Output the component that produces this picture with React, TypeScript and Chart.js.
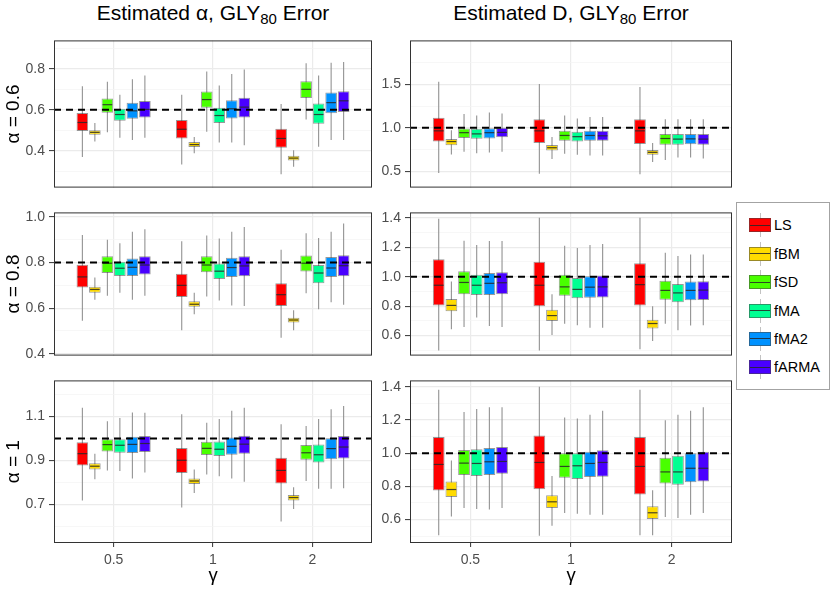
import React, { useEffect, useRef } from 'react'
import { Chart, registerables } from 'chart.js'

Chart.register(...registerables)

const FONT = "'Liberation Sans', Arial, Helvetica, sans-serif"
Chart.defaults.font.family = FONT

const methods = ['LS', 'fBM', 'fSD', 'fMA', 'fMA2', 'fARMA']
const methodColors = ['#FF0000', '#FFDB00', '#49FF00', '#00FF92', '#0092FF', '#4900FF']
const gammaLabels = ['0.5', '1', '2']

// one row per method, one entry per gamma (0.5, 1, 2):
// [lower whisker, Q1, median, Q3, upper whisker]
const alphaHat06 = [
  [[0.37, 0.497, 0.538, 0.584, 0.715], [0.333, 0.46, 0.505, 0.55, 0.673], [0.285, 0.415, 0.46, 0.508, 0.628]],
  [[0.445, 0.478, 0.49, 0.5, 0.535], [0.388, 0.418, 0.43, 0.443, 0.467], [0.322, 0.352, 0.364, 0.375, 0.403]],
  [[0.49, 0.586, 0.625, 0.655, 0.737], [0.493, 0.61, 0.65, 0.689, 0.787], [0.553, 0.658, 0.7, 0.74, 0.827]],
  [[0.463, 0.547, 0.577, 0.605, 0.674], [0.44, 0.535, 0.572, 0.61, 0.719], [0.42, 0.532, 0.577, 0.631, 0.767]],
  [[0.452, 0.556, 0.595, 0.635, 0.749], [0.44, 0.557, 0.605, 0.647, 0.775], [0.452, 0.583, 0.635, 0.685, 0.83]],
  [[0.463, 0.562, 0.602, 0.643, 0.767], [0.427, 0.562, 0.613, 0.659, 0.797], [0.452, 0.589, 0.644, 0.691, 0.834]]
]

const dHat06 = [
  [[0.482, 0.842, 0.965, 1.116, 1.528], [0.472, 0.824, 0.965, 1.099, 1.504], [0.465, 0.813, 0.965, 1.099, 1.468]],
  [[0.694, 0.8, 0.842, 0.87, 0.972], [0.641, 0.739, 0.771, 0.803, 0.894], [0.606, 0.69, 0.718, 0.746, 0.824]],
  [[0.725, 0.884, 0.944, 0.993, 1.158], [0.701, 0.852, 0.912, 0.965, 1.141], [0.63, 0.806, 0.877, 0.93, 1.099]],
  [[0.708, 0.873, 0.93, 0.99, 1.141], [0.69, 0.842, 0.898, 0.954, 1.106], [0.658, 0.806, 0.87, 0.93, 1.099]],
  [[0.715, 0.877, 0.944, 0.996, 1.176], [0.683, 0.852, 0.912, 0.965, 1.123], [0.658, 0.81, 0.873, 0.93, 1.099]],
  [[0.725, 0.891, 0.947, 1.0, 1.165], [0.683, 0.852, 0.908, 0.965, 1.123], [0.648, 0.806, 0.87, 0.93, 1.099]]
]

const alphaHat08 = [
  [[0.545, 0.691, 0.737, 0.79, 0.921], [0.503, 0.649, 0.7, 0.751, 0.893], [0.47, 0.609, 0.659, 0.709, 0.856]],
  [[0.637, 0.668, 0.682, 0.694, 0.734], [0.573, 0.606, 0.617, 0.63, 0.668], [0.503, 0.537, 0.548, 0.558, 0.591]],
  [[0.654, 0.754, 0.797, 0.828, 0.9], [0.651, 0.757, 0.789, 0.828, 0.918], [0.665, 0.761, 0.797, 0.831, 0.928]],
  [[0.668, 0.741, 0.775, 0.803, 0.884], [0.633, 0.728, 0.762, 0.796, 0.905], [0.595, 0.709, 0.754, 0.789, 0.907]],
  [[0.637, 0.741, 0.779, 0.818, 0.935], [0.612, 0.737, 0.778, 0.821, 0.935], [0.626, 0.737, 0.776, 0.824, 0.935]],
  [[0.654, 0.748, 0.789, 0.828, 0.946], [0.609, 0.74, 0.785, 0.828, 0.956], [0.615, 0.74, 0.786, 0.832, 0.971]]
]

const dHat08 = [
  [[0.498, 0.805, 0.942, 1.119, 1.394], [0.498, 0.799, 0.942, 1.102, 1.4], [0.507, 0.805, 0.946, 1.091, 1.4]],
  [[0.643, 0.766, 0.805, 0.849, 0.968], [0.604, 0.699, 0.736, 0.775, 0.881], [0.563, 0.648, 0.682, 0.708, 0.799]],
  [[0.658, 0.881, 0.961, 1.037, 1.244], [0.68, 0.87, 0.931, 1.013, 1.21], [0.68, 0.844, 0.907, 0.972, 1.162]],
  [[0.723, 0.875, 0.942, 1.013, 1.216], [0.671, 0.853, 0.914, 0.991, 1.195], [0.637, 0.827, 0.89, 0.95, 1.141]],
  [[0.665, 0.875, 0.955, 1.026, 1.242], [0.654, 0.857, 0.929, 1.004, 1.216], [0.669, 0.84, 0.907, 0.968, 1.151]],
  [[0.658, 0.881, 0.959, 1.03, 1.242], [0.654, 0.859, 0.931, 1.009, 1.223], [0.671, 0.842, 0.909, 0.97, 1.151]]
]

const alphaHat1 = [
  [[0.719, 0.877, 0.931, 0.983, 1.139], [0.687, 0.843, 0.901, 0.957, 1.11], [0.624, 0.796, 0.855, 0.912, 1.064]],
  [[0.815, 0.859, 0.874, 0.888, 0.931], [0.753, 0.793, 0.807, 0.818, 0.859], [0.68, 0.719, 0.732, 0.744, 0.779]],
  [[0.855, 0.941, 0.972, 0.996, 1.078], [0.837, 0.925, 0.955, 0.985, 1.071], [0.807, 0.903, 0.935, 0.97, 1.056]],
  [[0.852, 0.935, 0.969, 0.996, 1.093], [0.828, 0.92, 0.951, 0.986, 1.088], [0.772, 0.891, 0.926, 0.972, 1.088]],
  [[0.818, 0.934, 0.973, 1.008, 1.118], [0.818, 0.926, 0.964, 1.004, 1.125], [0.772, 0.906, 0.954, 1.001, 1.132]],
  [[0.845, 0.938, 0.977, 1.011, 1.116], [0.804, 0.931, 0.974, 1.012, 1.139], [0.774, 0.909, 0.961, 1.011, 1.147]]
]

const dHat1 = [
  [[0.505, 0.775, 0.932, 1.097, 1.382], [0.503, 0.783, 0.944, 1.107, 1.4], [0.505, 0.751, 0.92, 1.097, 1.382]],
  [[0.619, 0.736, 0.781, 0.829, 0.955], [0.563, 0.67, 0.707, 0.746, 0.862], [0.505, 0.604, 0.641, 0.68, 0.777]],
  [[0.67, 0.868, 0.94, 1.019, 1.247], [0.639, 0.852, 0.92, 1.0, 1.214], [0.616, 0.817, 0.887, 0.973, 1.198]],
  [[0.664, 0.862, 0.938, 1.023, 1.266], [0.635, 0.845, 0.924, 1.0, 1.208], [0.61, 0.81, 0.887, 0.984, 1.231]],
  [[0.66, 0.868, 0.948, 1.031, 1.276], [0.629, 0.856, 0.938, 1.008, 1.231], [0.629, 0.825, 0.909, 1.0, 1.256]],
  [[0.67, 0.876, 0.95, 1.037, 1.276], [0.629, 0.858, 0.944, 1.017, 1.256], [0.639, 0.829, 0.909, 1.008, 1.276]]
]

// y tick values per panel
const ticksA = [0.4, 0.6, 0.8]
const minorA = [0.3, 0.5, 0.7, 0.9]
const ticksB = [0.5, 1.0, 1.5]
const minorB = [0.75, 1.25, 1.75]
const ticksC = [0.4, 0.6, 0.8, 1.0]
const minorC = [0.5, 0.7, 0.9]
const ticksD = [0.6, 0.8, 1.0, 1.2, 1.4]
const minorD = [0.5, 0.7, 0.9, 1.1, 1.3]
const ticksE = [0.7, 0.9, 1.1]
const minorE = [0.6, 0.8, 1.0, 1.2]

const BOX_BORDER = 'rgba(70,70,70,0.55)'
const MEDIAN = 'rgba(40,40,40,0.85)'
const WHISKER = '#8f8f8f'

interface PanelProps {
  stats: number[][][]
  yMin: number
  yMax: number
  majors: number[]
  minors: number[]
  trueValue: number
  yTitle?: string
  showX: boolean
  left: number
  top: number
  width: number
  height: number
  axisWidth: number
  padTop: number
  padRight: number
  padBottom: number
  xAxisHeight: number
}

const boxExtras = {
  id: 'boxExtras',
  afterDatasetsDraw(chart: any, _args: any, opts: any) {
    const { ctx, chartArea, scales } = chart
    const y = scales.y
    ctx.save()
    ctx.strokeStyle = MEDIAN
    ctx.lineWidth = 1.2
    chart.data.datasets.forEach((ds: any, i: number) => {
      if (!ds.medians) return
      const meta = chart.getDatasetMeta(i)
      meta.data.forEach((bar: any, j: number) => {
        const { x, width } = bar.getProps(['x', 'width'], true)
        const py = y.getPixelForValue(ds.medians[j])
        ctx.beginPath()
        ctx.moveTo(x - width / 2 + 1, py)
        ctx.lineTo(x + width / 2 - 1, py)
        ctx.stroke()
      })
    })
    // reference line at the true value
    const ry = y.getPixelForValue(opts.trueValue)
    ctx.setLineDash([7, 5])
    ctx.lineWidth = 2
    ctx.strokeStyle = '#000'
    ctx.beginPath()
    ctx.moveTo(chartArea.left, ry)
    ctx.lineTo(chartArea.right, ry)
    ctx.stroke()
    ctx.restore()
  },
  afterDraw(chart: any) {
    const { ctx, chartArea } = chart
    ctx.save()
    ctx.strokeStyle = '#333333'
    ctx.lineWidth = 1
    ctx.strokeRect(chartArea.left + 0.5, chartArea.top + 0.5, chartArea.width - 1, chartArea.height - 1)
    ctx.restore()
  }
}

const Panel: React.FC<PanelProps> = (p) => {
  const canvasRef = useRef<HTMLCanvasElement | null>(null)

  useEffect(() => {
    if (!canvasRef.current) return
    const isMajor = (v: number) => p.majors.some((m) => Math.abs(m - v) < 1e-6)
    const allTicks = [...p.majors, ...p.minors].sort((a, b) => a - b)

    const datasets: any[] = []
    methods.forEach((m, i) => {
      datasets.push({
        label: m,
        data: p.stats[i].map((r, j) => ({ x: j + 1, y: [r[1], r[3]] })),
        medians: p.stats[i].map((r) => r[2]),
        stack: m,
        order: 0,
        backgroundColor: methodColors[i],
        borderColor: BOX_BORDER,
        borderWidth: 1,
        borderSkipped: false,
        categoryPercentage: 0.755,
        barPercentage: 0.93
      })
    })
    methods.forEach((m, i) => {
      datasets.push({
        label: m + ' whiskers',
        data: p.stats[i].map((r, j) => ({ x: j + 1, y: [r[0], r[4]] })),
        stack: m,
        order: 1,
        backgroundColor: WHISKER,
        borderWidth: 0,
        inflateAmount: 0,
        categoryPercentage: 0.755,
        barPercentage: 0.085
      })
    })

    const chart = new Chart(canvasRef.current, {
      type: 'bar',
      data: { datasets },
      plugins: [boxExtras as any],
      options: {
        responsive: false,
        animation: false,
        events: [],
        layout: {
          autoPadding: false,
          padding: { left: 0, top: p.padTop, right: p.padRight, bottom: p.padBottom }
        },
        plugins: {
          legend: { display: false },
          tooltip: { enabled: false },
          boxExtras: { trueValue: p.trueValue }
        } as any,
        scales: {
          x: {
            type: 'linear',
            min: 0.4,
            max: 3.6,
            offset: false,
            bounds: 'data',
            afterBuildTicks: (s: any) => {
              s.ticks = gammaLabels.map((_, j) => ({ value: j + 1 }))
            },
            afterFit: (s: any) => {
              s.height = p.xAxisHeight
            },
            grid: {
              color: '#EBEBEB',
              lineWidth: 1.2,
              offset: false,
              drawTicks: p.showX,
              tickLength: 4,
              tickColor: '#333333',
              tickWidth: 1
            },
            border: { display: false },
            ticks: {
              display: p.showX,
              autoSkip: false,
              maxRotation: 0,
              padding: 5,
              color: '#4D4D4D',
              font: { size: 14 },
              callback: (_v: any, i: number) => gammaLabels[i]
            },
            title: {
              display: p.showX,
              text: 'γ',
              color: '#000',
              font: { size: 18.5 },
              padding: { top: 0, bottom: 6 }
            }
          } as any,
          y: {
            type: 'linear',
            min: p.yMin,
            max: p.yMax,
            stacked: false,
            bounds: 'data',
            afterBuildTicks: (s: any) => {
              s.ticks = allTicks.map((v) => ({ value: v }))
            },
            afterFit: (s: any) => {
              s.width = p.axisWidth
            },
            grid: {
              color: (c: any) => (c.tick && isMajor(c.tick.value) ? '#EBEBEB' : '#F3F3F3'),
              lineWidth: (c: any) => (c.tick && isMajor(c.tick.value) ? 1.2 : 0.7),
              tickLength: 5,
              tickWidth: 1,
              tickColor: (c: any) => (c.tick && isMajor(c.tick.value) ? '#333333' : 'rgba(0,0,0,0)')
            },
            border: { display: false },
            ticks: {
              autoSkip: false,
              padding: 4,
              color: '#4D4D4D',
              font: { size: 14 },
              callback: (v: any) => (isMajor(Number(v)) ? Number(v).toFixed(1) : '')
            },
            title: {
              display: !!p.yTitle,
              text: p.yTitle || '',
              color: '#000',
              font: { size: 19 },
              padding: { top: 2, bottom: 0 }
            }
          } as any
        }
      }
    })

    return () => {
      chart.destroy()
    }
  }, [])

  return (
    <div style={{ position: 'absolute', left: p.left, top: p.top, width: p.width, height: p.height }}>
      <canvas ref={canvasRef} width={p.width} height={p.height} style={{ width: p.width, height: p.height }} />
    </div>
  )
}

// panel frames: left column plot area 54-372, right column 410-732
const col = [
  { left: 0, width: 378, axisWidth: 54, padRight: 6 },
  { left: 378, width: 360, axisWidth: 32, padRight: 6 }
]
const row = [
  { top: 28, height: 172, padTop: 9, padBottom: 3, xAxisHeight: 0, showX: false },
  { top: 200, height: 168, padTop: 11, padBottom: 7, xAxisHeight: 0, showX: false },
  { top: 368, height: 225, padTop: 7, padBottom: 0, xAxisHeight: 50, showX: true }
]

const panels = [
  { stats: alphaHat06, yMin: 0.22, yMax: 0.939, majors: ticksA, minors: minorA, trueValue: 0.6, yTitle: 'α = 0.6', c: 0, r: 0 },
  { stats: dHat06, yMin: 0.313, yMax: 2.004, majors: ticksB, minors: minorB, trueValue: 1, c: 1, r: 0 },
  { stats: alphaHat08, yMin: 0.392, yMax: 1.0197, majors: ticksC, minors: minorC, trueValue: 0.8, yTitle: 'α = 0.8', c: 0, r: 1 },
  { stats: dHat08, yMin: 0.464, yMax: 1.437, majors: ticksD, minors: minorD, trueValue: 1, c: 1, r: 1 },
  { stats: alphaHat1, yMin: 0.526, yMax: 1.263, majors: ticksE, minors: minorE, trueValue: 1, yTitle: 'α = 1', c: 0, r: 2 },
  { stats: dHat1, yMin: 0.459, yMax: 1.438, majors: ticksD, minors: minorD, trueValue: 1, c: 1, r: 2 }
]

const Title: React.FC<{ center: number; symbol: string }> = ({ center, symbol }) => (
  <div
    style={{
      position: 'absolute',
      left: center - 200,
      width: 400,
      top: 2,
      textAlign: 'center',
      fontSize: 21,
      lineHeight: '21px',
      color: '#000',
      whiteSpace: 'nowrap'
    }}
  >
    Estimated {symbol}, GLY<span style={{ fontSize: 15, position: 'relative', top: 4 }}>80</span> Error
  </div>
)

const Legend: React.FC = () => (
  <div
    style={{
      position: 'absolute',
      left: 736,
      top: 202,
      width: 94,
      height: 188,
      border: '1px solid #a3a3a3',
      boxSizing: 'border-box',
      background: '#fff'
    }}
  >
    {methods.map((m, i) => {
      const cy = 22.3 + 28.4 * i
      return (
        <React.Fragment key={m}>
          <div style={{ position: 'absolute', left: 23, top: cy - 12, width: 1, height: 24, background: '#c2c2c2' }} />
          <div
            style={{
              position: 'absolute',
              left: 12,
              top: cy - 7,
              width: 22,
              height: 14,
              background: methodColors[i],
              border: '1px solid ' + BOX_BORDER,
              boxSizing: 'border-box'
            }}
          >
            <div style={{ position: 'absolute', left: 0, right: 0, top: 5.5, height: 1, background: MEDIAN }} />
          </div>
          <div style={{ position: 'absolute', left: 37, top: cy - 8, fontSize: 14.5, lineHeight: '16px', color: '#000' }}>
            {m}
          </div>
        </React.Fragment>
      )
    })}
  </div>
)

export default function App() {
  return (
    <div
      style={{
        position: 'absolute',
        left: 0,
        top: 0,
        width: 830,
        height: 593,
        background: '#fff',
        overflow: 'hidden',
        fontFamily: FONT
      }}
    >
      <Title center={213} symbol="α" />
      <Title center={571} symbol="D" />
      {panels.map((pp, k) => (
        <Panel
          key={k}
          stats={pp.stats}
          yMin={pp.yMin}
          yMax={pp.yMax}
          majors={pp.majors}
          minors={pp.minors}
          trueValue={pp.trueValue}
          yTitle={pp.yTitle}
          showX={row[pp.r].showX}
          left={col[pp.c].left}
          width={col[pp.c].width}
          axisWidth={col[pp.c].axisWidth}
          padRight={col[pp.c].padRight}
          top={row[pp.r].top}
          height={row[pp.r].height}
          padTop={row[pp.r].padTop}
          padBottom={row[pp.r].padBottom}
          xAxisHeight={row[pp.r].xAxisHeight}
        />
      ))}
      <Legend />
    </div>
  )
}
